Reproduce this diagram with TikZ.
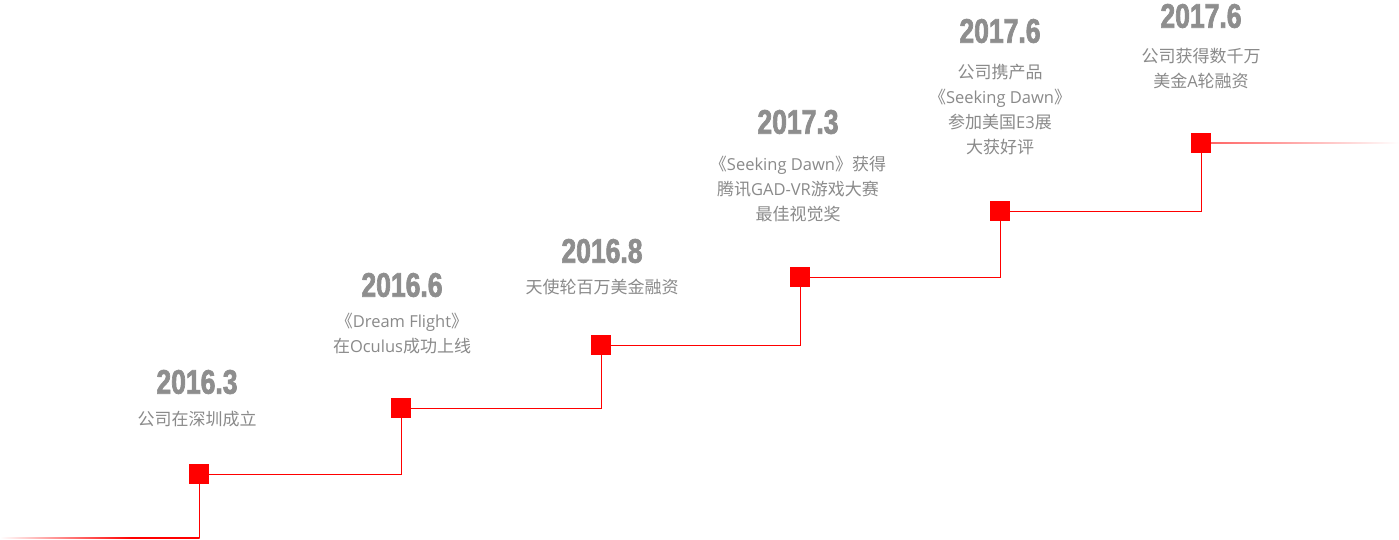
\documentclass[tikz,border=0pt]{standalone}
\usepackage{fontspec}
\setmainfont{Noto Sans CJK SC}
\newfontfamily\cjk{Noto Sans CJK SC}
\newfontfamily\lat{Open Sans}
\newfontfamily\yearfont[FakeStretch=0.78,FakeBold=2]{Liberation Sans Bold}
\newcommand{\la}[1]{{\lat\fontsize{16.5}{25}\selectfont #1}}
\definecolor{yeargray}{HTML}{8E8E8E}
\definecolor{txtgray}{HTML}{8A8A8A}
\definecolor{lred}{HTML}{FF0000}
\pgfdeclarehorizontalshading{fadeinred}{100bp}{color(0bp)=(white); color(25bp)=(white); color(58bp)=(lred); color(100bp)=(lred)}
\pgfdeclarehorizontalshading{fadeoutred}{100bp}{color(0bp)=(lred!60); color(25bp)=(lred!60); color(75bp)=(white); color(100bp)=(white)}
\begin{document}
\begin{tikzpicture}[x=1pt,y=-1pt,
  sq/.style={fill=lred,minimum size=20pt,inner sep=0pt,outer sep=0pt},
  conn/.style={draw=lred,line width=1pt},
  year/.style={inner sep=0pt,text=yeargray,font=\yearfont\fontsize{34}{34}\selectfont},
  desc/.style={inner sep=0pt,text=txtgray,align=center,font=\cjk\fontsize{17}{25}\selectfont}]
\useasboundingbox[fill=white] (0,0) rectangle (1399,539);

\node[sq] (s1) at (199,474) {};
\node[sq] (s2) at (401,408) {};
\node[sq] (s3) at (601,345) {};
\node[sq] (s4) at (800,277) {};
\node[sq] (s5) at (1000,211) {};
\node[sq] (s6) at (1201,143) {};

\coordinate (L0) at (0,538);
\coordinate (Lc) at (199,538);
\coordinate (R1) at (1399,143);

\shade[shading=fadeinred] ([yshift=-0.6pt]L0) rectangle ([xshift=0.5pt,yshift=0.6pt]Lc);
\draw[conn] (Lc) -- (s1);
\draw[conn] (s1) -| (s2);
\draw[conn] (s2) -| (s3);
\draw[conn] (s3) -| (s4);
\draw[conn] (s4) -| (s5);
\draw[conn] (s5) -| (s6);
\shade[shading=fadeoutred] ([yshift=-0.6pt]s6.east) rectangle ([yshift=0.6pt]R1);

\node[year] (y1) at (197,382) {2016.3};
\node[desc] (d1) at (197,419) {公司在深圳成立};

\node[year] (y2) at (402,285) {2016.6};
\node[desc] (d2) at (402,334) {《\la{Dream Flight}》\\在\la{Oculus}成功上线};

\node[year] (y3) at (602,251) {2016.8};
\node[desc] (d3) at (602,287) {天使轮百万美金融资};

\node[year] (y4) at (798,122) {2017.3};
\node[desc] (d4) at (798,189) {《\la{Seeking Dawn}》获得\\腾讯\la{GAD-VR}游戏大赛\\最佳视觉奖};

\node[year] (y5) at (1000,31) {2017.6};
\node[desc] (d5) at (1000,110) {公司携产品\\《\la{Seeking Dawn}》\\参加美国\la{E3}展\\大获好评};

\node[year] (y6) at (1201,16) {2017.6};
\node[desc] (d6) at (1201,69) {公司获得数千万\\美金\la{A}轮融资};
\end{tikzpicture}
\end{document}
